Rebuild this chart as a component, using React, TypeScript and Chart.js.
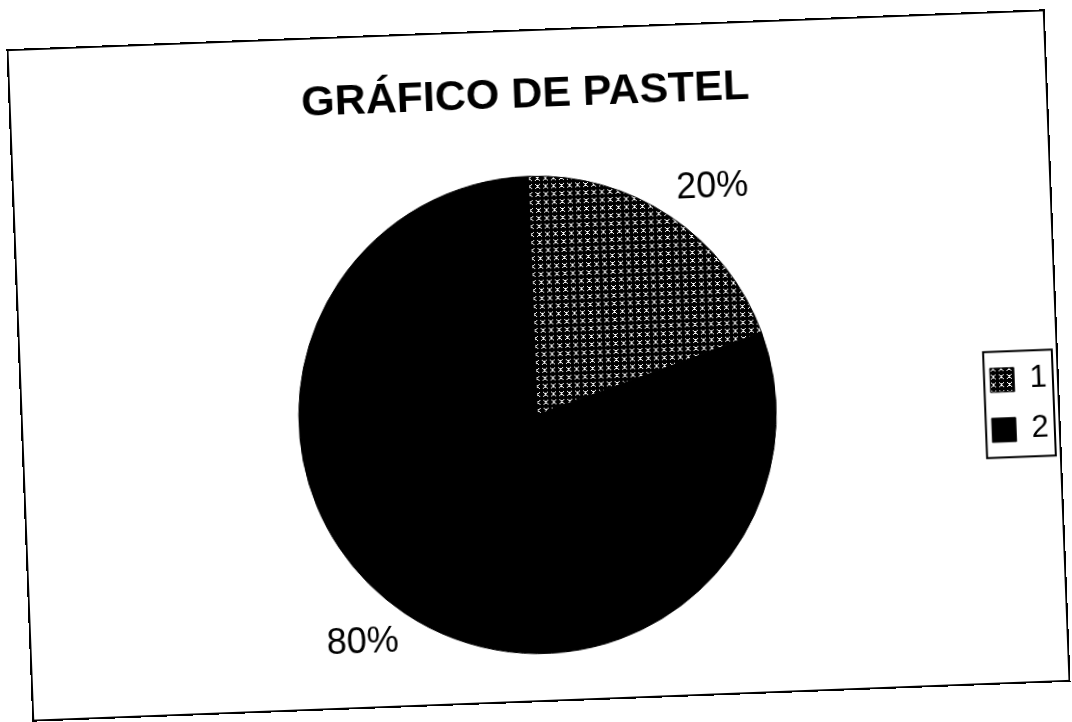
import React, { useEffect, useRef } from "react";
import { Chart, registerables } from "chart.js";

Chart.register(...registerables);

const categories = ["1", "2"];
const values = [20, 80];
const percentLabels = ["20%", "80%"];
const chartTitle = "GRÁFICO DE PASTEL";

const FONT = "'Liberation Sans', Arial, Helvetica, sans-serif";

function makePattern(): CanvasPattern | string {
  const c = document.createElement("canvas");
  c.width = 8;
  c.height = 8;
  const g = c.getContext("2d");
  if (!g) return "#777";
  g.fillStyle = "#000";
  g.fillRect(0, 0, 8, 8);
  g.fillStyle = "#fff";
  const pts = [
    [1, 1], [5, 1], [2, 2], [4, 2], [3, 3], [2, 4], [4, 4], [1, 5], [5, 5], [3, 2], [3, 4],
  ];
  pts.forEach(([x, y]) => g.fillRect(x, y, 1, 1));
  return g.createPattern(c, "repeat") || "#777";
}

const pctPlugin = {
  id: "pctLabels",
  afterDatasetsDraw(chart: any) {
    const ctx = chart.ctx;
    const meta = chart.getDatasetMeta(0);
    ctx.save();
    ctx.font = `36px ${FONT}`;
    ctx.fillStyle = "#000";
    meta.data.forEach((arc: any, i: number) => {
      const p = arc.getProps(["x", "y", "startAngle", "endAngle", "outerRadius"], true);
      const mid = (p.startAngle + p.endAngle) / 2;
      const r = p.outerRadius + 12;
      const x = p.x + Math.cos(mid) * r;
      const y = p.y + Math.sin(mid) * r;
      ctx.textAlign = Math.cos(mid) >= 0 ? "left" : "right";
      ctx.textBaseline = Math.sin(mid) >= 0 ? "top" : "bottom";
      ctx.fillText(percentLabels[i], x, y);
    });
    ctx.restore();
  },
};

const legendFramePlugin = {
  id: "legendFrame",
  afterDraw(chart: any) {
    const lg = chart.legend;
    if (!lg || !lg.legendHitBoxes || !lg.legendHitBoxes.length) return;
    const hb = lg.legendHitBoxes;
    const left = Math.min(...hb.map((h: any) => h.left)) - 6;
    const right = Math.max(...hb.map((h: any) => h.left + h.width)) + 6;
    const top = Math.min(...hb.map((h: any) => h.top)) - 13;
    const bottom = Math.max(...hb.map((h: any) => h.top + h.height)) + 12;
    const ctx = chart.ctx;
    ctx.save();
    ctx.strokeStyle = "#000";
    ctx.lineWidth = 2;
    ctx.strokeRect(left, top, right - left, bottom - top);
    ctx.restore();
  },
};

export default function App() {
  const ref = useRef<HTMLCanvasElement | null>(null);

  useEffect(() => {
    if (!ref.current) return;
    const pattern = makePattern();
    const chart = new Chart(ref.current, {
      type: "pie",
      data: {
        labels: categories,
        datasets: [
          {
            data: values,
            backgroundColor: [pattern as any, "#000000"],
            borderColor: "#000000",
            borderWidth: 1,
          },
        ],
      },
      options: {
        responsive: false,
        animation: false,
        devicePixelRatio: 1,
        layout: {
          padding: { left: 80, right: 0, top: 0, bottom: 46 },
        },
        plugins: {
          title: {
            display: true,
            fullSize: false,
            text: chartTitle,
            color: "#000",
            font: { family: FONT, size: 43, weight: "bold", lineHeight: 1.2 },
            padding: { top: 38, bottom: 55 },
          },
          legend: {
            display: true,
            fullSize: false,
            position: "right",
            title: {
              display: true,
              text: " ",
              font: { family: FONT, size: 10, lineHeight: 1.2 },
              padding: 2,
            },
            labels: {
              boxWidth: 24,
              boxHeight: 24,
              padding: 19,
              color: "#000",
              font: { family: FONT, size: 31 },
            },
          },
          tooltip: { enabled: false },
        },
      },
      plugins: [pctPlugin, legendFramePlugin],
    });
    return () => chart.destroy();
  }, []);

  return (
    <div
      style={{
        position: "fixed",
        left: 19,
        top: 29,
        width: 1039,
        height: 673,
        boxSizing: "border-box",
        border: "2px solid #000",
        background: "#fff",
        transform: "rotate(-2.2deg)",
        transformOrigin: "50% 50%",
      }}
    >
      <canvas ref={ref} width={1035} height={669} style={{ display: "block" }} />
    </div>
  );
}
